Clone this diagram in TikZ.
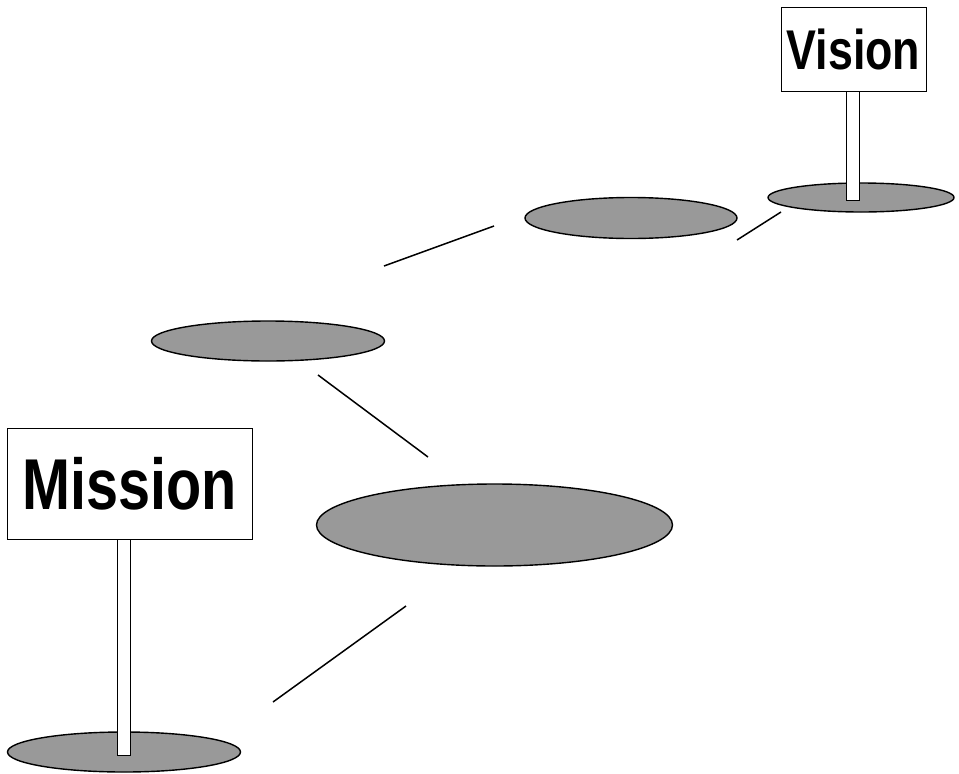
\documentclass[tikz,border=0pt]{standalone}
\usepackage{fontspec}
\usetikzlibrary{shapes.geometric}
\newfontfamily\signfont[FakeStretch=0.80]{Liberation Sans Bold}
\definecolor{stonegray}{RGB}{153,153,153}
\begin{document}
\begin{tikzpicture}[x=1pt,y=-1pt,
  stone/.style={ellipse, draw=black, line width=1.4pt, fill=stonegray, inner sep=0pt},
  signbox/.style={draw=black, line width=1pt, fill=white, inner sep=0pt},
  postbar/.style={draw=black, line width=1pt, fill=white},
  link/.style={draw=black, line width=1.5pt}]
\useasboundingbox (0,0) rectangle (959,774);
% stepping stones
\node[stone, minimum width=186pt, minimum height=29pt] (s5) at (861,197.5) {};
\node[stone, minimum width=212pt, minimum height=41pt] (s4) at (631,218) {};
\node[stone, minimum width=233pt, minimum height=40pt] (s3) at (268,341) {};
\node[stone, minimum width=356pt, minimum height=82pt] (s2) at (494.5,525) {};
\node[stone, minimum width=233pt, minimum height=40pt] (s1) at (124,752) {};
% connectors
\coordinate (a1) at (273,702); \coordinate (a2) at (406,606);
\coordinate (b1) at (318,375); \coordinate (b2) at (428,457);
\coordinate (c1) at (384,266); \coordinate (c2) at (494,226);
\coordinate (d1) at (737,240); \coordinate (d2) at (781,212);
\draw[link] (a1) -- (a2);
\draw[link] (b1) -- (b2);
\draw[link] (c1) -- (c2);
\draw[link] (d1) -- (d2);
% signs
\node[signbox, minimum width=245pt, minimum height=111pt] (mission) at (129.5,483.5)
  {\signfont\fontsize{72}{76}\selectfont Mission};
\node[signbox, minimum width=145pt, minimum height=84pt] (vision) at (853.5,49)
  {\signfont\fontsize{56}{60}\selectfont Vision};
% posts
\coordinate (mp) at (117.5,539); \coordinate (mpb) at (130,755.5);
\draw[postbar] (mp) rectangle (mpb);
\coordinate (vp) at (846.5,91); \coordinate (vpb) at (859.5,200);
\draw[postbar] (vp) rectangle (vpb);
\end{tikzpicture}
\end{document}
